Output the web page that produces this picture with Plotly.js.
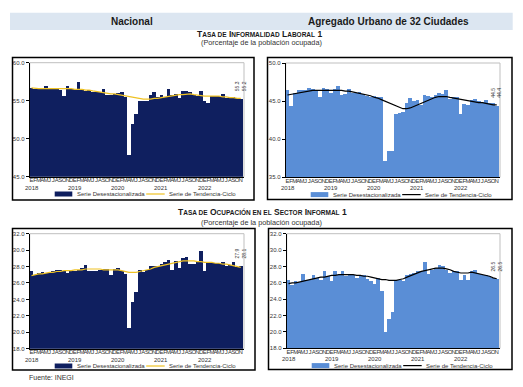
<!DOCTYPE html>
<html><head><meta charset="utf-8">
<script src="https://cdn.plot.ly/plotly-3.0.1.min.js"></script>
<style>html,body{margin:0;padding:0;background:#fff;}#chart{width:523px;height:387px;}</style>
</head><body><div id="chart"></div>
<script>
const monthLetters = ['E','F','M','A','M','J','J','A','S','O','N','D'];
const years = ['2018','2019','2020','2021','2022'];
const seriesNames = ['Serie Desestacionalizada','Serie de Tendencia-Ciclo'];

const nacInfBars = [56.7,56.5,56.5,56.6,56.9,56.6,56.5,56.6,56.4,55.6,57.0,56.6,
  56.5,57.5,56.6,56.3,56.4,56.2,56.1,56.1,56.6,55.8,55.8,55.9,
  56.0,56.2,55.5,47.9,52.0,53.2,54.9,54.9,54.9,55.7,56.2,55.5,
  55.7,55.5,56.6,55.8,55.9,55.4,56.3,56.3,56.1,55.8,55.6,56.3,
  55.0,54.7,55.6,55.6,55.6,55.9,55.4,55.5,55.5,55.3,55.2];
const nacInfTrend = [56.7,56.6,56.6,56.6,56.6,56.6,56.6,56.6,56.6,56.6,56.6,56.6,
  56.5,56.5,56.5,56.4,56.4,56.3,56.2,56.1,56.1,56.0,55.9,55.9,
  55.8,55.7,55.6,55.5,55.4,55.3,55.3,55.2,55.2,55.2,55.3,55.3,
  55.4,55.5,55.6,55.7,55.7,55.8,55.8,55.9,55.9,55.8,55.7,55.7,
  55.6,55.6,55.6,55.6,55.6,55.5,55.5,55.4,55.4,55.3,55.3];

const urbInfBars = [46.5,44.3,46.0,46.5,46.4,46.5,46.7,46.6,46.4,45.6,46.7,46.6,
  46.1,46.6,47.0,45.8,45.9,46.6,46.0,46.0,46.2,45.9,45.7,45.6,
  45.7,45.6,45.5,37.1,38.5,38.4,43.3,43.4,43.6,44.7,45.4,45.0,
  45.1,44.5,45.8,45.7,45.6,45.8,46.1,45.9,46.5,45.3,45.5,45.6,
  43.3,44.6,44.5,45.1,45.3,45.0,44.9,45.2,44.8,44.7,44.4];
const urbInfTrend = [45.8,45.9,46.0,46.1,46.2,46.3,46.3,46.4,46.4,46.4,46.4,46.4,
  46.4,46.4,46.4,46.4,46.3,46.3,46.2,46.1,46.0,45.9,45.8,45.7,
  45.5,45.4,45.2,45.0,44.8,44.6,44.3,44.1,44.0,44.0,44.1,44.3,
  44.5,44.8,45.0,45.2,45.4,45.5,45.6,45.6,45.6,45.5,45.4,45.3,
  45.2,45.1,45.0,44.9,44.9,44.8,44.8,44.7,44.6,44.5,44.5];

const nacOcuBars = [27.5,27.0,27.2,27.3,27.2,27.3,27.4,27.6,27.6,27.5,27.2,27.4,
  27.5,27.6,27.8,28.2,27.4,27.5,27.5,27.6,27.7,27.7,27.0,27.7,
  27.8,27.4,27.1,20.5,23.7,24.9,27.6,27.3,27.6,28.1,28.1,28.1,
  28.3,28.5,28.8,27.6,28.7,27.8,29.0,29.2,28.3,28.3,28.5,29.9,
  27.5,28.4,28.4,28.4,28.4,28.6,28.1,28.2,28.6,28.0,28.1];
const nacOcuTrend = [26.9,27.0,27.1,27.1,27.2,27.3,27.3,27.4,27.4,27.5,27.5,27.5,
  27.6,27.6,27.6,27.7,27.7,27.7,27.7,27.7,27.6,27.6,27.6,27.6,
  27.6,27.5,27.4,27.3,27.3,27.3,27.4,27.5,27.6,27.7,27.9,28.0,
  28.1,28.2,28.3,28.4,28.5,28.6,28.7,28.7,28.7,28.7,28.6,28.6,
  28.5,28.5,28.5,28.4,28.4,28.3,28.3,28.2,28.1,28.0,27.9];

const urbOcuBars = [26.4,25.7,26.2,26.1,27.1,26.3,26.3,27.0,26.6,26.4,27.4,26.8,
  26.2,27.4,27.0,27.5,26.8,27.1,26.9,26.6,26.8,27.0,26.5,26.2,
  25.9,26.6,25.0,20.0,21.6,22.4,26.4,26.4,26.2,27.0,27.1,27.2,
  27.4,27.4,28.6,27.1,27.6,27.8,28.2,28.1,27.6,27.2,27.4,27.4,
  26.3,27.0,26.3,27.4,27.6,27.1,27.0,26.9,26.8,26.6,26.5];
const urbOcuTrend = [25.9,26.0,26.0,26.1,26.2,26.3,26.4,26.5,26.6,26.7,26.7,26.8,
  26.9,26.9,27.0,27.0,27.0,27.0,27.0,26.9,26.9,26.8,26.8,26.7,
  26.6,26.5,26.4,26.4,26.3,26.3,26.3,26.4,26.5,26.7,26.9,27.1,
  27.3,27.4,27.5,27.6,27.7,27.8,27.8,27.8,27.7,27.6,27.4,27.3,
  27.2,27.2,27.2,27.3,27.2,27.1,27.0,26.9,26.8,26.6,26.5];

const W = 523, H = 387;
const FONT = 'Arial, "Liberation Sans", sans-serif';
const px = v => v / W;
const py = v => 1 - v / H;

const allPeriods = [];
years.forEach(y => monthLetters.forEach((m, j) => allPeriods.push(y + '-' + String(j + 1).padStart(2, '0'))));

const panels = [
  {bars: nacInfBars, trend: nacInfTrend, barColor: '#0f1f5f', lineColor: '#efc224',
   yr: [45, 60], dtick: 5, x0: 29.7, x1: 244, top: 62.7, bot: 176.7, box: [12.5, 57.5, 254, 200]},
  {bars: urbInfBars, trend: urbInfTrend, barColor: '#5a8ed6', lineColor: '#000000',
   yr: [35, 50], dtick: 5, x0: 285.7, x1: 500, top: 63, bot: 177.3, box: [267.5, 57.5, 512, 199.5]},
  {bars: nacOcuBars, trend: nacOcuTrend, barColor: '#0f1f5f', lineColor: '#efc224',
   yr: [18, 32], dtick: 2, x0: 29.7, x1: 244, top: 233.7, bot: 348.7, box: [12.5, 228.5, 255, 370]},
  {bars: urbOcuBars, trend: urbOcuTrend, barColor: '#5a8ed6', lineColor: '#000000',
   yr: [18, 32], dtick: 2, x0: 286.7, x1: 500, top: 233.7, bot: 348.3, box: [268.5, 228.5, 512, 369.5]}
];

const data = [];
const layout = {
  width: W, height: H, margin: {l: 0, r: 0, t: 0, b: 0},
  paper_bgcolor: '#ffffff', plot_bgcolor: '#ffffff',
  showlegend: false, bargap: 0,
  font: {family: FONT, size: 6, color: '#333333'},
  shapes: [], annotations: []
};

layout.shapes.push({type: 'rect', xref: 'paper', yref: 'paper', x0: px(10), x1: px(512.7), y0: py(30), y1: py(12.7),
  fillcolor: '#dce6f1', line: {width: 0}, layer: 'below'});
layout.annotations.push({xref: 'paper', yref: 'paper', x: px(132), y: py(21.5), text: '<b>Nacional</b>',
  showarrow: false, font: {size: 10, color: '#1a1a1a'}, xanchor: 'center', yanchor: 'middle'});
layout.annotations.push({xref: 'paper', yref: 'paper', x: px(388), y: py(21.5), text: '<b>Agregado Urbano de 32 Ciudades</b>',
  showarrow: false, font: {size: 10, color: '#1a1a1a'}, xanchor: 'center', yanchor: 'middle'});

const sc = s => '<span style="font-size:6.5px">' + s + '</span>';
const titles = [
  {t: 'T' + sc('ASA DE') + ' I' + sc('NFORMALIDAD') + ' L' + sc('ABORAL') + ' 1', x: 259, y: 34},
  {t: 'T' + sc('ASA DE') + ' O' + sc('CUPACIÓN EN EL') + ' S' + sc('ECTOR') + ' I' + sc('NFORMAL') + ' 1', x: 262.5, y: 212.3}
];
titles.forEach(o => {
  layout.annotations.push({xref: 'paper', yref: 'paper', x: px(o.x), y: py(o.y), text: '<b>' + o.t + '</b>',
    showarrow: false, font: {size: 8.5, color: '#1a1a1a'}, xanchor: 'center', yanchor: 'middle'});
});
[42.5, 222.7].forEach(y => {
  layout.annotations.push({xref: 'paper', yref: 'paper', x: px(261.5), y: py(y), text: '(Porcentaje de la población ocupada)',
    showarrow: false, font: {size: 7.3, color: '#333333'}, xanchor: 'center', yanchor: 'middle'});
});
layout.annotations.push({xref: 'paper', yref: 'paper', x: px(27), y: py(377), text: 'Fuente: INEGI',
  showarrow: false, font: {size: 7, color: '#333333'}, xanchor: 'left', yanchor: 'middle'});

panels.forEach((p, i) => {
  const n = i + 1;
  const xa = n === 1 ? 'x' : 'x' + n;
  const ya = n === 1 ? 'y' : 'y' + n;
  const periods = allPeriods.slice(0, p.bars.length);
  const last = p.bars.length - 1;
  data.push({type: 'bar', x: periods, y: p.bars, xaxis: xa, yaxis: ya, name: seriesNames[0],
    marker: {color: p.barColor, line: {width: 0}}, hoverinfo: 'skip'});
  data.push({type: 'scatter', mode: 'lines', x: periods, y: p.trend, xaxis: xa, yaxis: ya, name: seriesNames[1],
    line: {color: p.lineColor, width: 1.2}, hoverinfo: 'skip'});

  layout['xaxis' + (n === 1 ? '' : n)] = {
    domain: [px(p.x0), px(p.x1)], anchor: ya, type: 'category',
    range: [-0.5, last + 0.9], fixedrange: true,
    tickmode: 'array', tickvals: periods, ticktext: periods.map(s => monthLetters[+s.slice(5) - 1]),
    tickangle: 0, ticks: '', ticklabelstandoff: -3, tickfont: {size: 6, color: '#333333'},
    showline: true, linecolor: '#000000', linewidth: 1, showgrid: false, zeroline: false
  };
  layout['yaxis' + (n === 1 ? '' : n)] = {
    domain: [py(p.bot), py(p.top)], anchor: xa, range: p.yr, dtick: p.dtick, tick0: p.yr[0],
    tickformat: '.1f', ticks: 'outside', ticklen: 3, tickcolor: '#000000',
    tickfont: {size: 6, color: '#333333'}, showline: true, linecolor: '#000000', linewidth: 1,
    showgrid: false, zeroline: false, fixedrange: true
  };
  layout.shapes.push({type: 'rect', xref: xa + ' domain', yref: ya + ' domain', x0: 0, x1: 1, y0: 0, y1: 1,
    line: {color: '#bfbfbf', width: 1}, layer: 'below'});
  layout.shapes.push({type: 'rect', xref: 'paper', yref: 'paper', x0: px(p.box[0]), x1: px(p.box[2]),
    y0: py(p.box[3]), y1: py(p.box[1]), line: {color: '#000000', width: 1.5}});
  years.forEach(y => {
    const per = y + '-01';
    if (periods.indexOf(per) >= 0) {
      layout.annotations.push({xref: xa, yref: ya + ' domain', x: per, y: 0, yanchor: 'middle', yshift: -11,
        text: y, showarrow: false, font: {size: 6, color: '#333333'}});
    }
  });
  layout.annotations.push({xref: xa, yref: ya, x: periods[last], y: Math.max(p.bars[last], p.trend[last]),
    text: p.trend[last].toFixed(1) + '<br>' + p.bars[last].toFixed(1), textangle: -90,
    showarrow: false, xanchor: 'center', yanchor: 'bottom', yshift: 5, font: {size: 5, color: '#333333'}});
  const ly = p.bot + 17.3;
  layout.shapes.push({type: 'rect', xref: 'paper', yref: 'paper', x0: px(p.x0 + 25), x1: px(p.x0 + 42.6),
    y0: py(ly + 2.5), y1: py(ly - 2.5), fillcolor: p.barColor, line: {width: 0}});
  layout.annotations.push({xref: 'paper', yref: 'paper', x: px(p.x0 + 45), y: py(ly), text: seriesNames[0],
    showarrow: false, xanchor: 'left', yanchor: 'middle', font: {size: 6, color: '#333333'}});
  layout.shapes.push({type: 'line', xref: 'paper', yref: 'paper', x0: px(p.x0 + 116.5), x1: px(p.x0 + 135),
    y0: py(ly), y1: py(ly), line: {color: p.lineColor, width: 1.2}});
  layout.annotations.push({xref: 'paper', yref: 'paper', x: px(p.x0 + 137.5), y: py(ly), text: seriesNames[1],
    showarrow: false, xanchor: 'left', yanchor: 'middle', font: {size: 6, color: '#333333'}});
});

Plotly.newPlot('chart', data, layout, {staticPlot: true, displayModeBar: false});
</script></body></html>
